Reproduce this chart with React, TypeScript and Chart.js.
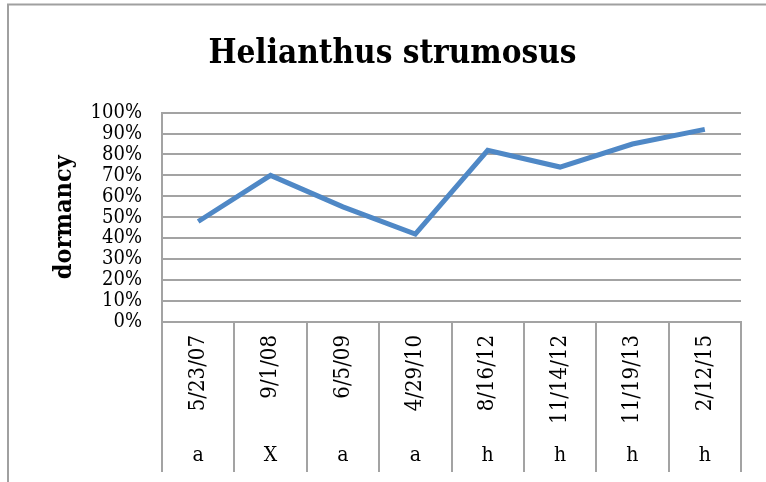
import React, { useEffect, useRef } from "react";
import { Chart, registerables } from "chart.js";

Chart.register(...registerables);

const dates = ["5/23/07", "9/1/08", "6/5/09", "4/29/10", "8/16/12", "11/14/12", "11/19/13", "2/12/15"];
const codes = ["a", "X", "a", "a", "h", "h", "h", "h"];
const dormancy = [0.48, 0.7, 0.55, 0.42, 0.82, 0.74, 0.85, 0.92];

const TITLE = "Helianthus strumosus";
const Y_TITLE = "dormancy";
const SERIF = "'DejaVu Serif Condensed', 'Liberation Serif', serif";
const GRID = "#a3a3a3";

const framePlugin = {
  id: "frame",
  beforeDraw(chart: any) {
    const ctx = chart.ctx;
    ctx.save();
    ctx.strokeStyle = "#a0a0a0";
    ctx.lineWidth = 2;
    ctx.beginPath();
    ctx.moveTo(8, chart.height + 5);
    ctx.lineTo(8, 4.5);
    ctx.lineTo(chart.width + 5, 4.5);
    ctx.stroke();
    ctx.restore();
  },
};

export default function App() {
  const ref = useRef<HTMLCanvasElement>(null);
  useEffect(() => {
    if (!ref.current) return;
    const chart = new Chart(ref.current, {
      type: "line",
      data: {
        labels: dates,
        datasets: [
          {
            data: dormancy,
            borderColor: "#4f88c6",
            borderWidth: 5,
            pointRadius: 0,
            tension: 0,
            fill: false,
          },
        ],
      },
      plugins: [framePlugin],
      options: {
        animation: false,
        responsive: false,
        layout: { padding: { left: 44, right: 25, top: 0, bottom: 10 } },
        plugins: {
          legend: { display: false },
          tooltip: { enabled: false },
          title: {
            display: true,
            text: TITLE,
            color: "#000",
            font: { family: SERIF, size: 33, weight: "bold" },
            padding: { top: 35, bottom: 38 },
          },
        },
        scales: {
          x: {
            type: "category",
            position: "bottom",
            offset: true,
            weight: 0,
            grid: {
              offset: true,
              drawOnChartArea: false,
              drawTicks: true,
              tickLength: 106,
              color: GRID,
              lineWidth: 2,
            },
            border: { display: true, color: GRID, width: 2 },
            ticks: {
              autoSkip: false,
              minRotation: 90,
              maxRotation: 90,
              padding: -93,
              color: "#000",
              font: { family: SERIF, size: 22 },
            },
            afterFit(scale: any) {
              scale.height = 106;
            },
          },
          x2: {
            type: "category",
            position: "bottom",
            labels: codes,
            offset: true,
            weight: 1,
            grid: {
              offset: true,
              drawOnChartArea: false,
              drawTicks: true,
              tickLength: 44,
              color: GRID,
              lineWidth: 2,
            },
            border: { display: false },
            ticks: {
              autoSkip: false,
              maxRotation: 0,
              minRotation: 0,
              padding: -29,
              color: "#000",
              font: { family: SERIF, size: 21 },
            },
            afterFit(scale: any) {
              scale.height = 44;
            },
          },
          y: {
            min: 0,
            max: 1,
            grid: { color: GRID, lineWidth: 2, drawTicks: false },
            border: { display: true, color: GRID, width: 2 },
            ticks: {
              stepSize: 0.1,
              autoSkip: false,
              padding: 20,
              color: "#000",
              font: { family: SERIF, size: 20, lineHeight: 1 },
              callback: (v: any) => Math.round(Number(v) * 100) + "%",
            },
            title: {
              display: true,
              text: Y_TITLE,
              color: "#000",
              font: { family: SERIF, size: 25, weight: "bold" },
              padding: { top: 5, bottom: 0 },
            },
            afterFit(scale: any) {
              scale.width = 118;
            },
          },
        },
      },
    });
    return () => chart.destroy();
  }, []);
  return (
    <div style={{ position: "fixed", left: 0, top: 0, width: 766, height: 482, background: "#fff" }}>
      <canvas ref={ref} width={766} height={482} />
    </div>
  );
}
